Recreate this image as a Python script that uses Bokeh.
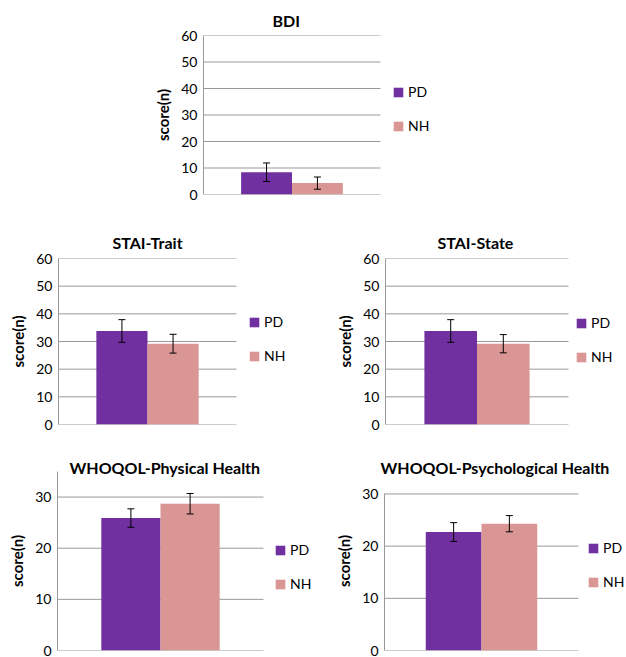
from bokeh.plotting import figure
from bokeh.models import (Range1d, Whisker, TeeHead, ColumnDataSource,
                          Legend, LegendItem, FixedTicker)
from bokeh.layouts import column, row
from bokeh.embed import file_html
from bokeh.resources import INLINE

# ---- data ----
groups = ["PD", "NH"]
group_colors = ["#7030A0", "#D99694"]

bdi_mean = [8.4, 4.3]
bdi_err = [3.5, 2.3]
trait_mean = [33.8, 29.2]
trait_err = [4.1, 3.4]
state_mean = [33.8, 29.2]
state_err = [4.1, 3.3]
phys_mean = [25.9, 28.7]
phys_err = [1.8, 2.0]
psych_mean = [22.7, 24.3]
psych_err = [1.8, 1.55]

ticks_60 = [0, 10, 20, 30, 40, 50, 60]
ticks_30 = [0, 10, 20, 30]

FONT = "Lato"
GRID = "#999999"
PAD = 0.74  # category padding on each side (fraction of one bar)


def make_panel(title, means, errs, ymax, axis_max, ticks, width, height,
               bl, plot_w, frame_w, bt, bb, leg_dx, leg_dy,
               title_offset, title_standoff):
    xs = list(range(len(groups)))
    src = ColumnDataSource(dict(
        x=xs, group=groups, mean=means,
        upper=[m + e for m, e in zip(means, errs)],
        lower=[m - e for m, e in zip(means, errs)],
        color=group_colors))
    x0 = -0.5 - PAD
    x1 = len(groups) - 0.5 + PAD
    x_end = x0 + (x1 - x0) * frame_w / plot_w
    br = width - bl - frame_w
    p = figure(x_range=Range1d(x0, x_end), y_range=Range1d(0, ymax),
               width=width, height=height,
               min_border_left=bl, min_border_right=br,
               min_border_top=bt, min_border_bottom=bb,
               toolbar_location=None, output_backend="svg", title=title)
    p.outline_line_color = None
    p.background_fill_color = "white"
    p.title.text_font = FONT
    p.title.text_font_size = "16px"
    p.title.text_font_style = "bold"
    p.title.text_color = "black"
    p.title.align = "left"
    p.title.offset = title_offset
    p.title.standoff = title_standoff

    # horizontal gridlines, only across the plot area (legend sits beside it)
    p.segment(x0=[x0] * len(ticks), x1=[x1] * len(ticks), y0=ticks, y1=ticks,
              line_color=GRID, line_width=1, level="underlay")

    r = p.vbar(x="x", top="mean", width=1.0, source=src,
               fill_color="color", line_color=None)
    p.add_layout(Whisker(base="x", upper="upper", lower="lower", source=src,
                         level="annotation",
                         line_color="black", line_width=1,
                         upper_head=TeeHead(size=7, line_color="black", line_width=1),
                         lower_head=TeeHead(size=7, line_color="black", line_width=1)))

    p.xgrid.visible = False
    p.ygrid.visible = False
    p.xaxis.visible = False

    p.yaxis.ticker = FixedTicker(ticks=ticks)
    p.yaxis.bounds = (0, axis_max)
    p.yaxis.axis_label = "score(n)"
    p.yaxis.axis_label_text_font = FONT
    p.yaxis.axis_label_text_font_size = "15px"
    p.yaxis.axis_label_text_font_style = "bold"
    p.yaxis.axis_label_text_color = "black"
    p.yaxis.axis_label_standoff = 6
    p.yaxis.major_label_text_font = FONT
    p.yaxis.major_label_text_font_size = "14px"
    p.yaxis.major_label_text_color = "black"
    p.yaxis.major_label_standoff = 6
    p.yaxis.major_tick_in = 0
    p.yaxis.major_tick_out = 0
    p.yaxis.minor_tick_line_color = None
    p.yaxis.axis_line_color = GRID

    items = [LegendItem(label=g, renderers=[r], index=i) for i, g in enumerate(groups)]
    leg = Legend(items=items, location=(leg_dx, leg_dy), orientation="vertical",
                 glyph_width=12, glyph_height=12, label_height=12, label_width=10,
                 spacing=17, padding=0, margin=0, label_standoff=4,
                 border_line_color=None, background_fill_alpha=0,
                 label_text_font=FONT, label_text_font_size="14px",
                 label_text_color="black")
    p.add_layout(leg)
    return p


bdi = make_panel("BDI", bdi_mean, bdi_err, 60, 60, ticks_60, 626, 220,
                 203, 177, 250, 35, 26, 189, 60, 69, 12)
trait = make_panel("STAI-Trait", trait_mean, trait_err, 60, 60, ticks_60, 318, 213,
                   58, 178, 250, 38, 8, 190, 60, 54, 14)
state = make_panel("STAI-State", state_mean, state_err, 60, 60, ticks_60, 308, 213,
                   67, 183, 241, 38, 9, 190, 59, 52, 14)
phys = make_panel("WHOQOL-Physical Health", phys_mean, phys_err, 35, 35, ticks_30, 318, 224,
                  57, 206, 258, 38, 7, 217, 58, 12, -10)
psych = make_panel("WHOQOL-Psychological Health", psych_mean, psych_err, 34.3, 30, ticks_30, 308, 224,
                   66, 194, 242, 38, 7, 203, 60, -4, -10)

layout = column(bdi, row(trait, state), row(phys, psych))

open("out.html", "w").write(file_html(layout, INLINE))
